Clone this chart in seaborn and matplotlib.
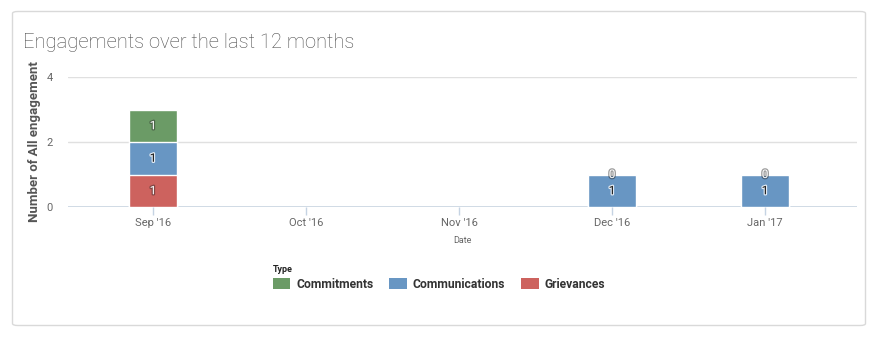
import numpy as np
import pandas as pd
import matplotlib
matplotlib.use("Agg")
import matplotlib.pyplot as plt
import matplotlib.patheffects as pe
from matplotlib.patches import FancyBboxPatch, Patch
import seaborn as sns

months = ["Sep '16", "Oct '16", "Nov '16", "Dec '16", "Jan '17"]
commitments = [1, np.nan, np.nan, 0, 0]
communications = [1, np.nan, np.nan, 1, 1]
grievances = [1, np.nan, np.nan, np.nan, np.nan]
series_names = ["Commitments", "Communications", "Grievances"]
colors = {"Commitments": "#6b9b66", "Communications": "#6896c3", "Grievances": "#cd625e"}

sns.set_theme(style="white")
plt.rcParams["font.family"] = ["Roboto", "DejaVu Sans"]

W, H = 877, 337
fig = plt.figure(figsize=(W / 100, H / 100), dpi=100)

card = FancyBboxPatch((12.5 / W, 11.5 / H), 853 / W, 314 / H,
                      boxstyle="round,pad=0,rounding_size=0.006",
                      transform=fig.transFigure, facecolor="white",
                      edgecolor="#d9d9d9", linewidth=1.0, zorder=-5)
fig.patches.append(card)

ax = fig.add_axes([68 / W, (H - 207) / H, (857 - 68) / W, 130 / H])
ax.set_facecolor("none")
ax.set_zorder(2)

g = np.nan_to_num(np.array(grievances, dtype=float))
c = np.nan_to_num(np.array(communications, dtype=float))
m = np.nan_to_num(np.array(commitments, dtype=float))
layers = [("Grievances", g, np.zeros(5)),
          ("Communications", c, g),
          ("Commitments", m, g + c)]

cum_specs = [("Commitments", g + c + m), ("Communications", g + c), ("Grievances", g)]
for name, tot in cum_specs:
    vals = np.where(tot > 0, tot, np.nan)
    d = pd.DataFrame({"month": months, "value": vals})
    sns.barplot(data=d, x="month", y="value", order=months, color=colors[name],
                saturation=1, width=0.315, edgecolor="white", linewidth=1.0, ax=ax)

raw = {"Commitments": commitments, "Communications": communications, "Grievances": grievances}
for name, vals, bottom in layers:
    for i, v in enumerate(raw[name]):
        if np.isnan(v):
            continue
        y = bottom[i] + v / 2.0
        if name == "Communications" and v > 0:
            fc, sc, a = "#111111", "white", 0.8
        else:
            fc, sc, a = "white", "#222222", 0.45
        ax.text(i, y, f"{int(v)}", ha="center", va="center", color=fc,
                fontsize=8.5, zorder=5,
                path_effects=[pe.withStroke(linewidth=1.8, foreground=sc, alpha=a)])

ax.set_ylim(0, 4)
ax.set_xlim((68 - 153) / 153, (857 - 153) / 153)
ax.set_yticks([0, 2, 4])
ax.yaxis.grid(True, color="#e0e0e0", linewidth=1.0)
ax.set_axisbelow(True)
for s in ax.spines.values():
    s.set_visible(False)
ax.axhline(0, color="#c5d3e3", linewidth=1.2, zorder=0.5)
ax.tick_params(axis="x", colors="#c5d3e3", length=6, width=1, labelcolor="#666666",
               labelsize=8, pad=2, direction="out", bottom=True)
ax.tick_params(axis="y", length=0, labelcolor="#666666", labelsize=8, pad=11)
ax.set_xlabel("Date", fontsize=6.5, color="#666666", labelpad=6)
ax.set_ylabel("Number of All engagement", fontsize=9.5, color="#555555",
              fontweight="bold", labelpad=4)

fig.text(23 / W, 1 - 42 / H, "Engagements over the last 12 months", fontsize=14.5,
         color="#4a4a4a", fontweight="light", va="center", ha="left")

handles = [Patch(facecolor=colors[n], edgecolor="none") for n in series_names]
leg = fig.legend(handles, series_names, loc="upper left",
                 bbox_to_anchor=(262 / W, 1 - 254 / H), ncol=3, frameon=False,
                 title="Type", alignment="left", handlelength=1.45, handleheight=1.1,
                 columnspacing=1.3, handletextpad=0.5, labelspacing=0.3,
                 prop={"weight": "bold", "size": 8.7},
                 title_fontproperties={"weight": "bold", "size": 6.5})
for t in leg.get_texts():
    t.set_color("#333333")
leg.get_title().set_color("#222222")

fig.savefig("out.png", dpi=100, facecolor="white")
